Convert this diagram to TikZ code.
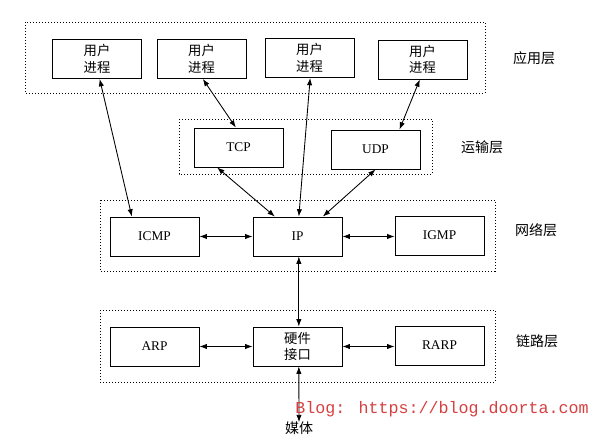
\documentclass[tikz,border=0pt]{standalone}
\usepackage{fontspec}
\setmainfont{Liberation Serif}
\newfontfamily\cjk{Noto Sans CJK SC}
\newfontfamily\blogfont{Liberation Mono}
\usepackage{xcolor}
\usepackage{tikz}
\usetikzlibrary{
	arrows.meta,    % punte di freccia
	positioning
}
\definecolor{blogred}{RGB}{214,64,64}

\begin{document}
\begin{tikzpicture}[x=0.75pt, y=-0.75pt,
		proc/.style={draw, line width=0.7pt, minimum width=66.75pt, minimum height=29.25pt,
			inner sep=1pt, align=center, font=\fontsize{10}{12.5}\selectfont},
		layer/.style={dash pattern=on 0.75pt off 1.5pt, line width=0.6pt},
		layername/.style={font=\cjk\fontsize{10.5}{12}\selectfont},
		link/.style={{Latex[length=5.5pt,width=4pt]}-{Latex[length=5.5pt,width=4pt]}, line width=0.65pt}]
		% Riquadro della pagina
		\useasboundingbox (0,0) rectangle (596,448);
		
		% --- Livelli (riquadri punteggiati) ---
		\draw[layer] (25,22) rectangle (485,93);
		\draw[layer] (179,119) rectangle (432,174);
		\draw[layer] (100,200) rectangle (495,271);
		\draw[layer] (100,310) rectangle (495,382);
		
		% --- Nomi dei livelli ---
		\node[layername] (app) at (534,58) {应用层};
		\node[layername] (trans) at (482,147) {运输层};
		\node[layername] (net) at (536,230) {网络层};
		\node[layername] (lnk) at (537,341) {链路层};
		
		% --- Processi utente ---
		\node[proc] (u1) at (97,59) {\cjk 用户\\\cjk 进程};
		\node[proc] (u2) at (201.5,59) {\cjk 用户\\\cjk 进程};
		\node[proc] (u3) at (309.5,58) {\cjk 用户\\\cjk 进程};
		\node[proc] (u4) at (422.5,59.5) {\cjk 用户\\\cjk 进程};
		
		% --- Trasporto ---
		\node[proc] (tcp) at (238.5,147.5) {TCP};
		\node[proc] (udp) at (375.5,149.5) {UDP};
		
		% --- Rete ---
		\node[proc] (icmp) at (154.5,236.5) {ICMP};
		\node[proc] (ip) at (297.5,236.5) {IP};
		\node[proc] (igmp) at (439.5,235.5) {IGMP};
		
		% --- Collegamento ---
		\node[proc] (arp) at (154.5,346.5) {ARP};
		\node[proc] (hw) at (297.5,346.5) {\cjk 硬件\\\cjk 接口};
		\node[proc] (rarp) at (439.5,345.5) {RARP};
		
		% Mezzo fisico
		\node[layername] (media) at (299,428) {媒体};
		
		% --- Frecce ---
		\draw[link] ([xshift=2pt]u1.south) -- ([xshift=-17pt]icmp.north);
		\draw[link] ([xshift=1pt]u2.south) -- ([xshift=-2pt]tcp.north);
		\draw[link] ([xshift=0.5pt]u3.south) -- ([xshift=1pt]ip.north);
		\draw[link] ([xshift=-2pt]u4.south) -- ([xshift=18pt]udp.north);
		\draw[link] ([xshift=-16pt]tcp.south) -- ([xshift=-17pt]ip.north);
		\draw[link] (udp.south) -- ([xshift=19pt]ip.north);
		\draw[link] (icmp) -- (ip);
		\draw[link] (ip) -- (igmp.west |- ip);
		\draw[link] ([xshift=1pt]ip.south) -- ([xshift=1pt]hw.north);
		\draw[link] (arp) -- (hw);
		\draw[link] (hw) -- (rarp.west |- hw);
		\draw[link] ([xshift=1pt]hw.south) -- ([yshift=-4pt]media.north);
		
		% Indirizzo del blog
		\node[font=\blogfont\fontsize{12.5}{14}\selectfont, text=blogred, anchor=west, inner sep=0pt] (blog) at (295,409) {Blog: https://blog.doorta.com};
	\end{tikzpicture}
\end{document}
